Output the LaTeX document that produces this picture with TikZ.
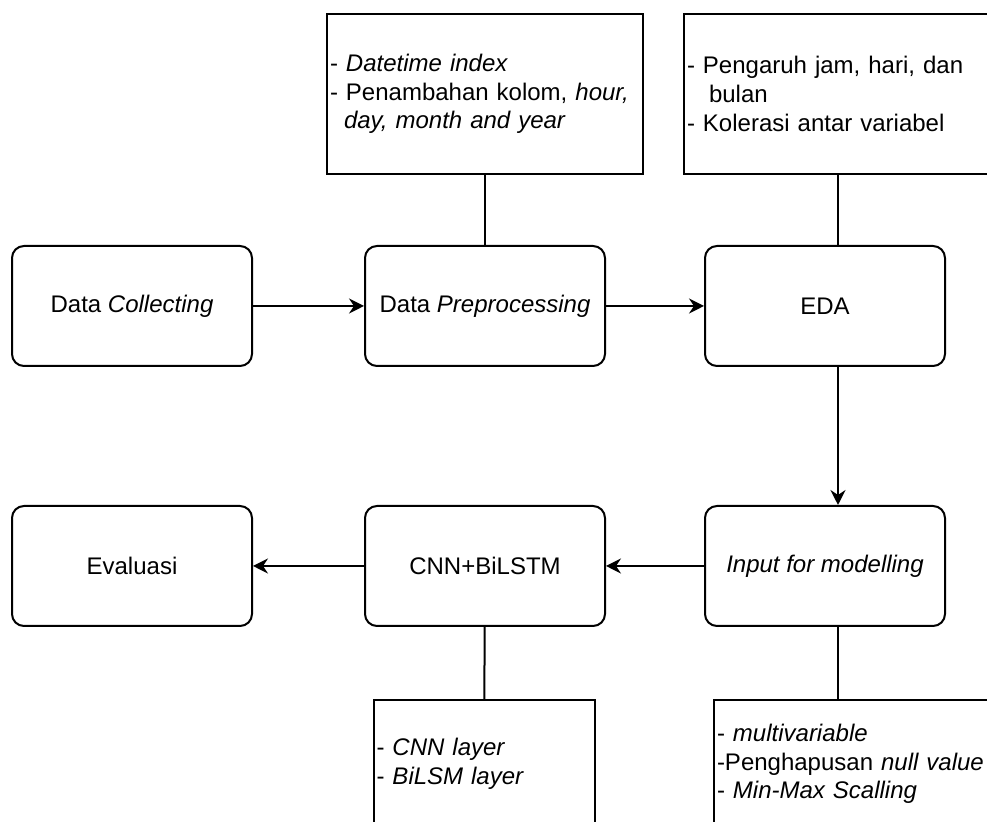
\documentclass[tikz,border=0pt]{standalone}
\usepackage{fontspec}
\setmainfont{Liberation Sans}
\usetikzlibrary{arrows.meta,calc,positioning}

\begin{document}
\begin{tikzpicture}[x=0.5pt,y=-0.5pt,
    font=\fontsize{12}{14.4}\selectfont,
    stage/.style={draw=black,line width=1pt,rounded corners=6pt,minimum width=120pt,minimum height=60pt,align=center},
    notebox/.style={draw=black,line width=1pt,minimum height=80pt,text width=155pt,inner xsep=1.5pt,align=left},
    layerbox/.style={draw=black,line width=1pt,minimum height=64pt,inner xsep=1.5pt,align=left},
    flow/.style={line width=1pt,-{Stealth[length=7.5pt,width=7.5pt,inset=2.5pt]}},
    link/.style={line width=1pt}]
        % Frame of the picture
        \useasboundingbox (0,0) rectangle (987,822);
        \clip (0,0) rectangle (987,822);
        % Stages
        \node[stage] (collect) at (132,306) {Data \textit{Collecting}};
        \node[stage] (prep) at (485,306) {Data \textit{Preprocessing}};
        \node[stage] (eda) at (825,306) {EDA};
        \node[stage] (eval) at (132,566) {Evaluasi};
        \node[stage] (cnn) at (485,566) {CNN+BiLSTM};
        \node[stage] (input) at (825,566) {\textit{Input for modelling}};
        % Notes
        \node[notebox] (prepnote) at (485,94) {- \textit{Datetime index}\\\makebox[152pt][s]{- Penambahan kolom, \textit{hour,}}\\\hspace*{7pt}\textit{day, month and year}};
        \node[notebox] (edanote) at (842,94) {- Pengaruh jam, hari, dan\\\hspace*{11pt}bulan\\- Kolerasi antar variabel};
        \node[layerbox,text width=107.5pt] (cnnnote) at (484,764) {- \textit{CNN layer}\\- \textit{BiLSM layer}};
        \node[layerbox,text width=137pt] (inputnote) at (854,764) {- \textit{multivariable}\\-Penghapusan \textit{null value}\\- \textit{Min-Max Scalling}};
        % Flow between stages
        \coordinate (side) at (838,0);
        \draw[flow] (collect) -- (prep);
        \draw[flow] (prep) -- (eda);
        \draw[flow] (eda.south -| side) -- (input.north -| side);
        \draw[flow] (input) -- (cnn);
        \draw[flow] (cnn) -- (eval);
        % Links to notes
        \draw[link] (prepnote) -- (prep);
        \draw[link] (edanote.south -| side) -- (eda.north -| side);
        \draw[link] (cnn) -- (cnnnote);
        \draw[link] (input.south -| side) -- (inputnote.north -| side);
      \end{tikzpicture}
\end{document}
